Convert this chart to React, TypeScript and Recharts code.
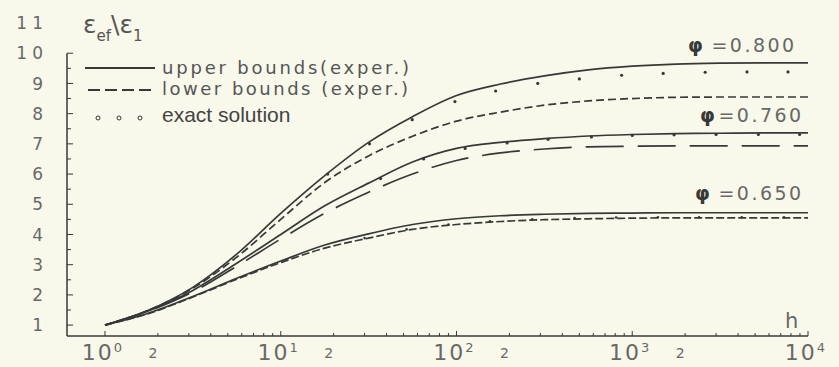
import React from 'react';
import { LineChart, Line, XAxis, YAxis, ReferenceLine } from 'recharts';

// h grid (quarter decades) used for the bound curves
const hGrid = [1, 1.78, 3.16, 5.62, 10, 17.8, 31.6, 56.2, 100, 178, 316, 562, 1000, 1780, 3160, 5620, 10000];

// phi = 0.800
const upper800 = [1, 1.5, 2.25, 3.35, 4.7, 5.95, 7.05, 7.9, 8.6, 8.98, 9.25, 9.45, 9.57, 9.64, 9.67, 9.68, 9.68];
const lower800 = [1, 1.5, 2.22, 3.25, 4.5, 5.72, 6.6, 7.25, 7.75, 8.05, 8.28, 8.42, 8.5, 8.54, 8.55, 8.55, 8.55];
// phi = 0.760
const upper760 = [1, 1.48, 2.15, 3.05, 4.0, 4.95, 5.7, 6.4, 6.85, 7.05, 7.17, 7.26, 7.31, 7.34, 7.35, 7.36, 7.36];
const lower760 = [1, 1.47, 2.1, 2.95, 3.85, 4.7, 5.4, 6.0, 6.45, 6.7, 6.83, 6.9, 6.92, 6.93, 6.93, 6.93, 6.93];
// phi = 0.650
const upper650 = [1, 1.4, 1.95, 2.55, 3.12, 3.65, 4.02, 4.33, 4.52, 4.62, 4.67, 4.7, 4.71, 4.72, 4.72, 4.72, 4.72];
const lower650 = [1, 1.39, 1.93, 2.52, 3.07, 3.55, 3.88, 4.17, 4.33, 4.43, 4.49, 4.52, 4.54, 4.55, 4.55, 4.55, 4.55];

// exact solution points
const exactH800 = [18.5, 32, 56, 98, 167, 290, 500, 870, 1500, 2600, 4500, 7700];
const exact800 = [6.0, 7.0, 7.8, 8.4, 8.75, 9.0, 9.15, 9.27, 9.33, 9.37, 9.38, 9.38];
const exactH760 = [37, 65, 112, 194, 332, 586, 1000, 1730, 3000, 5220, 8960];
const exact760 = [5.85, 6.5, 6.85, 7.03, 7.15, 7.23, 7.28, 7.3, 7.31, 7.31, 7.31];
const exactH650 = [30, 52, 90, 155, 270, 470, 810, 1400, 2400, 4200, 7300];
const exact650 = [3.88, 4.17, 4.33, 4.44, 4.5, 4.54, 4.56, 4.57, 4.57, 4.57, 4.57];

const xTicks = [
  1, 2, 3, 4, 5, 6, 7, 8, 9,
  10, 20, 30, 40, 50, 60, 70, 80, 90,
  100, 200, 300, 400, 500, 600, 700, 800, 900,
  1000, 2000, 3000, 4000, 5000, 6000, 7000, 8000, 9000,
  10000,
];
const yTicks = [1, 1.5, 2, 2.5, 3, 3.5, 4, 4.5, 5, 5.5, 6, 6.5, 7, 7.5, 8, 8.5, 9, 9.5, 10, 11];

const X_MIN = 0.608;
const Y_MIN = 0.64;
const Y_AXIS_TOP = 10;

const BG = '#f8f9eb';
const INK = '#383838';
const TXT = '#686868';
const FONT = '"DejaVu Sans", sans-serif';

const chartData = hGrid.map((h, i) => ({
  h,
  u800: upper800[i],
  l800: lower800[i],
  u760: upper760[i],
  l760: lower760[i],
  u650: upper650[i],
  l650: lower650[i],
}));
const dots800 = exactH800.map((h, i) => ({ h, v: exact800[i] }));
const dots760 = exactH760.map((h, i) => ({ h, v: exact760[i] }));
const dots650 = exactH650.map((h, i) => ({ h, v: exact650[i] }));

const XTick = (props: any) => {
  const { x, y, payload } = props;
  const v = payload.value as number;
  const exp = Math.round(Math.log10(v));
  const isPow = Math.abs(Math.pow(10, exp) - v) < 1e-6;
  const isTwo = Math.abs(2 * Math.pow(10, Math.floor(Math.log10(v))) - v) < 1e-6;
  return (
    <g>
      <line x1={x} x2={x} y1={y} y2={y - (isPow ? 5 : 3)} stroke={INK} strokeWidth={1} />
      {isPow && (
        <text x={x - 2} y={y + 24} textAnchor="middle" fontFamily={FONT} fontSize={22} fill={TXT} letterSpacing={2}>
          10<tspan fontSize={13} dy={-8}>{exp}</tspan>
        </text>
      )}
      {isTwo && (
        <text x={x - 5} y={y + 22} textAnchor="middle" fontFamily={FONT} fontSize={14} fill={TXT}>
          2
        </text>
      )}
    </g>
  );
};

const YTick = (props: any) => {
  const { x, y, payload } = props;
  const v = payload.value as number;
  const whole = Number.isInteger(v);
  return (
    <g>
      {v <= Y_AXIS_TOP && (
        <line x1={x} x2={x + (whole ? 6 : 4)} y1={y} y2={y} stroke={INK} strokeWidth={1} />
      )}
      {whole && (
        <text x={x - 19} y={y} dy="0.36em" textAnchor="end" fontFamily={FONT} fontSize={17} fill={TXT} letterSpacing={5}>
          {v}
        </text>
      )}
    </g>
  );
};

export default function App() {
  return (
    <div style={{ position: 'absolute', left: 0, top: 0, width: 839, height: 367, background: BG }}>
      <LineChart
        width={839}
        height={367}
        data={chartData}
        margin={{ top: 23, right: 31, bottom: 0, left: 7 }}
      >
        <XAxis
          dataKey="h"
          type="number"
          scale="log"
          domain={[X_MIN, 10000]}
          allowDataOverflow
          ticks={xTicks}
          interval={0}
          height={31}
          tickSize={0}
          tickMargin={0}
          tick={<XTick />}
          axisLine={{ stroke: INK, strokeWidth: 1.5 }}
          tickLine={false}
        />
        <YAxis
          type="number"
          domain={[Y_MIN, 11]}
          allowDataOverflow
          ticks={yTicks}
          interval={0}
          width={60}
          tickSize={0}
          tickMargin={0}
          tick={<YTick />}
          axisLine={false}
          tickLine={false}
        />
        <ReferenceLine
          segment={[{ x: X_MIN, y: Y_MIN }, { x: X_MIN, y: Y_AXIS_TOP }]}
          stroke={INK}
          strokeWidth={1.5}
          ifOverflow="visible"
        />

        <Line type="monotone" dataKey="u800" stroke={INK} strokeWidth={1.7} dot={false} isAnimationActive={false} />
        <Line type="monotone" dataKey="l800" stroke={INK} strokeWidth={1.7} strokeDasharray="8 4" dot={false} isAnimationActive={false} />
        <Line type="monotone" dataKey="u760" stroke={INK} strokeWidth={1.7} dot={false} isAnimationActive={false} />
        <Line type="monotone" dataKey="l760" stroke={INK} strokeWidth={1.7} strokeDasharray="38 14" dot={false} isAnimationActive={false} />
        <Line type="monotone" dataKey="u650" stroke={INK} strokeWidth={1.7} dot={false} isAnimationActive={false} />
        <Line type="monotone" dataKey="l650" stroke={INK} strokeWidth={1.7} strokeDasharray="8 3" dot={false} isAnimationActive={false} />

        <Line data={dots800} dataKey="v" stroke="none" dot={{ r: 1.6, fill: INK, stroke: 'none' }} isAnimationActive={false} />
        <Line data={dots760} dataKey="v" stroke="none" dot={{ r: 1.6, fill: INK, stroke: 'none' }} isAnimationActive={false} />
        <Line data={dots650} dataKey="v" stroke="none" dot={{ r: 1.3, fill: INK, stroke: 'none' }} isAnimationActive={false} />
      </LineChart>

      {/* legend, axis name and phi labels */}
      <svg width={839} height={367} style={{ position: 'absolute', left: 0, top: 0, pointerEvents: 'none' }}>
        <text x={83} y={33} fontFamily={FONT} fontSize={25} fill="#555">
          ε<tspan fontSize={15} dy={8}>ef</tspan>
          <tspan fontSize={25} dy={-8}>\ε</tspan>
          <tspan fontSize={15} dy={8}>1</tspan>
        </text>

        <line x1={85} x2={155} y1={68} y2={68} stroke={INK} strokeWidth={2} />
        <text x={162} y={74} fontFamily={FONT} fontSize={18} fill="#555" letterSpacing={2.8}>
          upper bounds(exper.)
        </text>
        <line x1={88} x2={155} y1={90} y2={90} stroke={INK} strokeWidth={2} strokeDasharray="12 5" />
        <text x={162} y={95} fontFamily={FONT} fontSize={18} fill="#555" letterSpacing={2.5}>
          lower bounds (exper.)
        </text>
        <circle cx={98} cy={118} r={2} fill="none" stroke={INK} strokeWidth={1} />
        <circle cx={119} cy={118} r={2} fill="none" stroke={INK} strokeWidth={1} />
        <circle cx={140} cy={118} r={2} fill="none" stroke={INK} strokeWidth={1} />
        <text x={162} y={122} fontFamily='"Liberation Sans", sans-serif' fontSize={21} fill="#444">
          exact solution
        </text>

        <text x={688} y={52} fontFamily={FONT} fontSize={19} fill={TXT} letterSpacing={2.5}>
          <tspan fill={INK} fontWeight="bold">φ</tspan>
          <tspan dx={6}>=0.800</tspan>
        </text>
        <text x={700} y={122} fontFamily={FONT} fontSize={19} fill={TXT} letterSpacing={2.5}>
          <tspan fill={INK} fontWeight="bold">φ</tspan>
          <tspan dx={1}>=0.760</tspan>
        </text>
        <text x={695} y={200} fontFamily={FONT} fontSize={19} fill={TXT} letterSpacing={2.5}>
          <tspan fill={INK} fontWeight="bold">φ</tspan>
          <tspan dx={6}>=0.650</tspan>
        </text>

        <text x={785} y={328} fontFamily={FONT} fontSize={21} fill={TXT}>
          h
        </text>
      </svg>
    </div>
  );
}
